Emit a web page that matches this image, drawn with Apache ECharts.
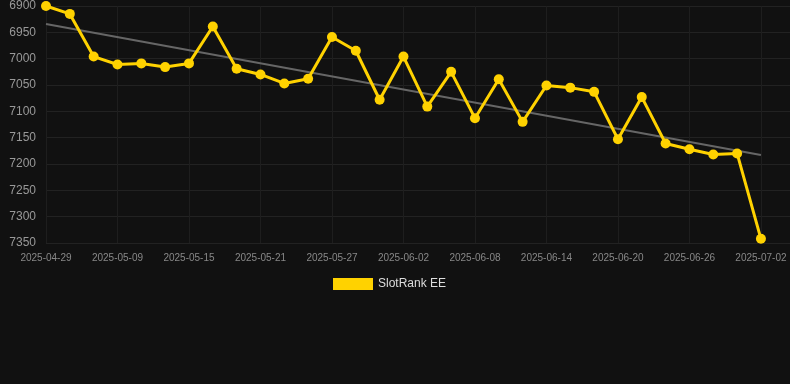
<!DOCTYPE html>
<html><head><meta charset="utf-8">
<script src="https://cdn.jsdelivr.net/npm/echarts@6/dist/echarts.min.js"></script>
<style>html,body{margin:0;padding:0;background:#111111;}#c{width:790px;height:384px;}</style>
</head><body><div id="c"></div>
<script>
const dates = ['2025-04-29','2025-05-02','2025-05-05','2025-05-09','2025-05-11','2025-05-13','2025-05-15','2025-05-17','2025-05-19','2025-05-21','2025-05-23','2025-05-25','2025-05-27','2025-05-29','2025-05-31','2025-06-02','2025-06-04','2025-06-06','2025-06-08','2025-06-10','2025-06-12','2025-06-14','2025-06-16','2025-06-18','2025-06-20','2025-06-22','2025-06-24','2025-06-26','2025-06-28','2025-06-30','2025-07-02'];
const rankValues = [6900,6915,6996,7011,7009,7016,7009,6939,7019,7030,7047,7038,6959,6985,7078,6996,7091,7025,7113,7039,7120,7051,7055,7063,7153,7073,7161,7172,7182,7180,7342];
const trendEnds = [6934,7183];
const seriesName = 'SlotRank EE';

const chart = echarts.init(document.getElementById('c'));
const lineData = rankValues.map((v,i)=>[i,v]);
const trendData = [[0,trendEnds[0]],[dates.length-1,trendEnds[1]]];
chart.setOption({
  backgroundColor:'#111111',
  animation:false,
  grid:{left:46,right:0,top:6,bottom:141},
  legend:{
    data:[{name:seriesName,icon:'rect'}],
    top:277,left:333,itemWidth:40,itemHeight:12,padding:[1,5,1,0],
    textStyle:{color:'#dddddd',fontSize:12,fontFamily:'Liberation Sans, Arial, sans-serif'}
  },
  xAxis:{
    type:'value',min:0,max:31.22,interval:3,
    axisLine:{show:false},axisTick:{show:false},
    splitLine:{show:true,lineStyle:{color:'#1e1e1e',width:1}},
    axisLabel:{
      color:'#888888',fontSize:10,margin:10,fontFamily:'Liberation Sans, Arial, sans-serif',
      showMaxLabel:false,
      formatter:function(v){return Number.isInteger(v)&&dates[v]?dates[v]:'';}
    }
  },
  yAxis:{
    type:'value',inverse:true,min:6900,max:7350,interval:50,
    axisLine:{show:false},axisTick:{show:false},
    splitLine:{show:true,lineStyle:{color:'#222222',width:1}},
    axisLabel:{color:'#999999',fontSize:12,margin:10,fontFamily:'Liberation Sans, Arial, sans-serif',
      formatter:function(v){return String(v);}}
  },
  series:[
    {
      name:'trend',type:'line',data:trendData,symbol:'none',silent:true,
      lineStyle:{color:'#666666',width:2},z:1
    },
    {
      name:seriesName,type:'line',data:lineData,symbol:'circle',symbolSize:10,
      itemStyle:{color:'#FFD200'},lineStyle:{color:'#FFD200',width:3},z:2
    }
  ]
});
</script></body></html>
